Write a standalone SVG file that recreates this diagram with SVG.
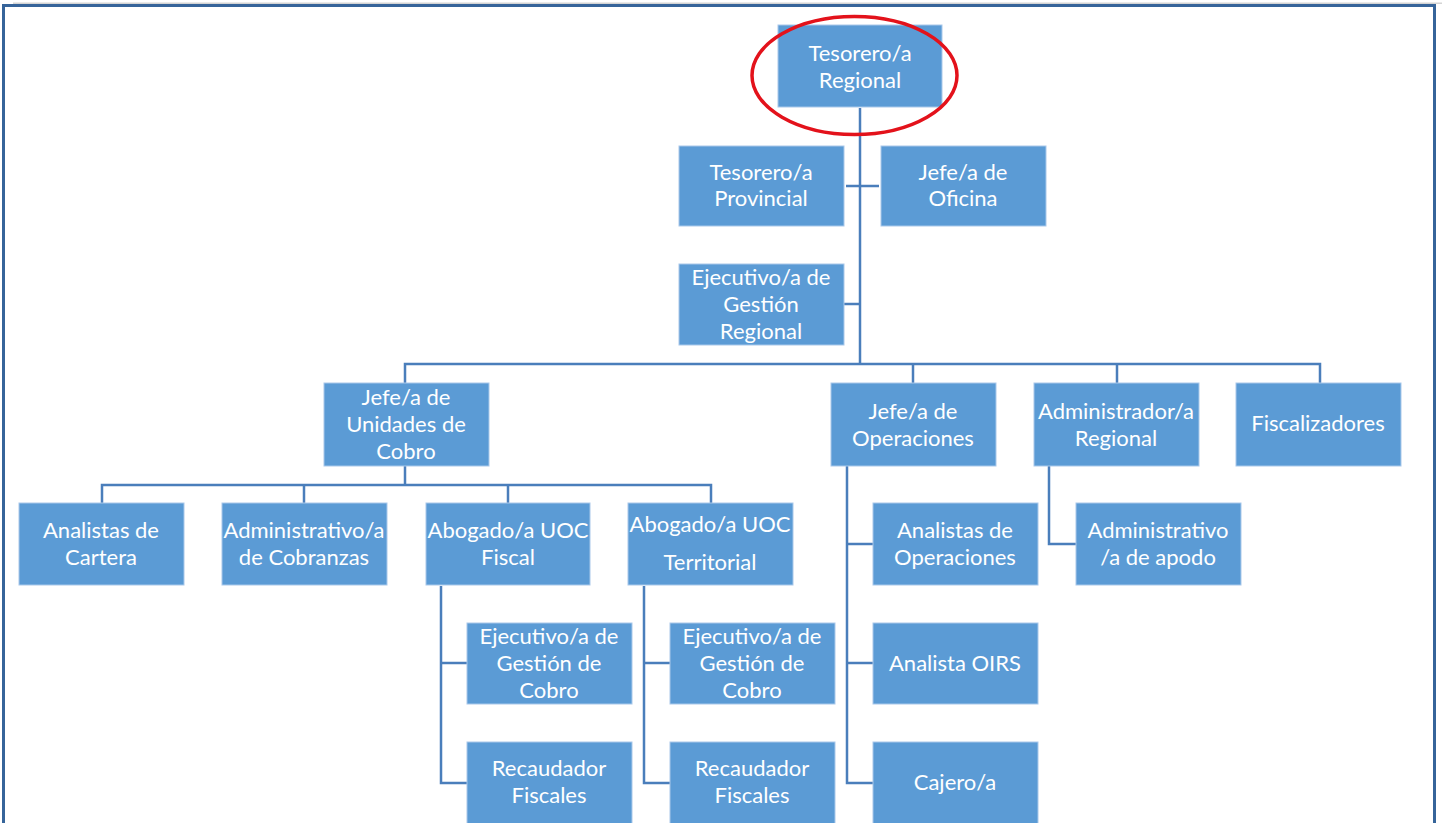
<svg xmlns="http://www.w3.org/2000/svg" width="1442" height="823" viewBox="0 0 1442 823">
<style>
.b{fill:#5B9BD5;stroke:#A9C8EA;stroke-width:1}
.t{font-family:Lato,"Liberation Sans",sans-serif;font-size:22px;fill:#FFFFFF;text-anchor:middle}
.c{fill:none;stroke:#4A7EBB;stroke-width:2.5}
</style>
<rect width="1442" height="823" fill="#FFFFFF"/>
<g id="frame">
<line x1="13" y1="3.3" x2="1442" y2="3.3" stroke="#D4D4D4" stroke-width="1.5"/>
<path d="M3.5 823 V5.5 H1434.5 V823" fill="none" stroke="#36649A" stroke-width="3"/>
</g>
<g id="connectors">
<path class="c" d="M860 108 V364"/>
<path class="c" d="M846 186 H879"/>
<path class="c" d="M844 304 H860"/>
<path class="c" d="M405 383 V364 H1320 V383"/>
<path class="c" d="M913 364 V383"/>
<path class="c" d="M1117 364 V383"/>
<path class="c" d="M405 466 V485"/>
<path class="c" d="M102 503 V485 H711 V503"/>
<path class="c" d="M304 485 V503"/>
<path class="c" d="M508 485 V503"/>
<path class="c" d="M441 586 V783 H467"/>
<path class="c" d="M441 663 H467"/>
<path class="c" d="M644 586 V783 H670"/>
<path class="c" d="M644 663 H670"/>
<path class="c" d="M847 466 V783 H873"/>
<path class="c" d="M847 544 H873"/>
<path class="c" d="M847 663 H873"/>
<path class="c" d="M1049 466 V544 H1076"/>
</g>
<g id="n-tesorero-regional"><rect class="b" x="778" y="25" width="164" height="82"/><text class="t" x="860" y="61">Tesorero/a</text><text class="t" x="860" y="88">Regional</text></g>
<g id="n-tesorero-provincial"><rect class="b" x="679" y="146" width="165" height="80"/><text class="t" x="761" y="180">Tesorero/a</text><text class="t" x="761" y="206">Provincial</text></g>
<g id="n-jefe-oficina"><rect class="b" x="881" y="146" width="165" height="80"/><text class="t" x="963" y="180">Jefe/a de</text><text class="t" x="963" y="206">Oficina</text></g>
<g id="n-ejecutivo-gestion-regional"><rect class="b" x="679" y="264" width="165" height="81"/><text class="t" x="761" y="285">Ejecutivo/a de</text><text class="t" x="761" y="312">Gestión</text><text class="t" x="761" y="339">Regional</text></g>
<g id="n-jefe-unidades-cobro"><rect class="b" x="324" y="383" width="165" height="83"/><text class="t" x="406" y="405">Jefe/a de</text><text class="t" x="406" y="432">Unidades de</text><text class="t" x="406" y="459">Cobro</text></g>
<g id="n-jefe-operaciones"><rect class="b" x="831" y="383" width="165" height="83"/><text class="t" x="913" y="419">Jefe/a de</text><text class="t" x="913" y="446">Operaciones</text></g>
<g id="n-administrador-regional"><rect class="b" x="1034" y="383" width="165" height="83"/><text class="t" x="1116" y="419">Administrador/a</text><text class="t" x="1116" y="446">Regional</text></g>
<g id="n-fiscalizadores"><rect class="b" x="1236" y="383" width="165" height="83"/><text class="t" x="1318" y="431">Fiscalizadores</text></g>
<g id="n-analistas-cartera"><rect class="b" x="19" y="503" width="165" height="82"/><text class="t" x="101" y="538">Analistas de</text><text class="t" x="101" y="565">Cartera</text></g>
<g id="n-administrativo-cobranzas"><rect class="b" x="222" y="503" width="165" height="82"/><text class="t" x="304" y="538">Administrativo/a</text><text class="t" x="304" y="565">de Cobranzas</text></g>
<g id="n-abogado-fiscal"><rect class="b" x="426" y="503" width="164" height="82"/><text class="t" x="508" y="538">Abogado/a UOC</text><text class="t" x="508" y="565">Fiscal</text></g>
<g id="n-abogado-territorial"><rect class="b" x="628" y="503" width="165" height="82"/><text class="t" x="710" y="532">Abogado/a UOC</text><text class="t" x="710" y="570">Territorial</text></g>
<g id="n-ejecutivo-cobro-1"><rect class="b" x="467" y="623" width="165" height="81"/><text class="t" x="549" y="644">Ejecutivo/a de</text><text class="t" x="549" y="671">Gestión de</text><text class="t" x="549" y="698">Cobro</text></g>
<g id="n-recaudador-1"><rect class="b" x="467" y="742" width="165" height="85"/><text class="t" x="549" y="776">Recaudador</text><text class="t" x="549" y="803">Fiscales</text></g>
<g id="n-ejecutivo-cobro-2"><rect class="b" x="670" y="623" width="165" height="81"/><text class="t" x="752" y="644">Ejecutivo/a de</text><text class="t" x="752" y="671">Gestión de</text><text class="t" x="752" y="698">Cobro</text></g>
<g id="n-recaudador-2"><rect class="b" x="670" y="742" width="165" height="85"/><text class="t" x="752" y="776">Recaudador</text><text class="t" x="752" y="803">Fiscales</text></g>
<g id="n-analistas-operaciones"><rect class="b" x="873" y="503" width="165" height="82"/><text class="t" x="955" y="538">Analistas de</text><text class="t" x="955" y="565">Operaciones</text></g>
<g id="n-analista-oirs"><rect class="b" x="873" y="623" width="165" height="81"/><text class="t" x="955" y="671">Analista OIRS</text></g>
<g id="n-cajero"><rect class="b" x="873" y="742" width="165" height="85"/><text class="t" x="955" y="790">Cajero/a</text></g>
<g id="n-administrativo-apodo"><rect class="b" x="1076" y="503" width="165" height="82"/><text class="t" x="1158" y="538">Administrativo</text><text class="t" x="1158" y="565">/a de apodo</text></g>
<g id="highlight"><ellipse cx="854.5" cy="75.5" rx="102.5" ry="59" fill="none" stroke="#E3121B" stroke-width="3.5"/></g>
</svg>
